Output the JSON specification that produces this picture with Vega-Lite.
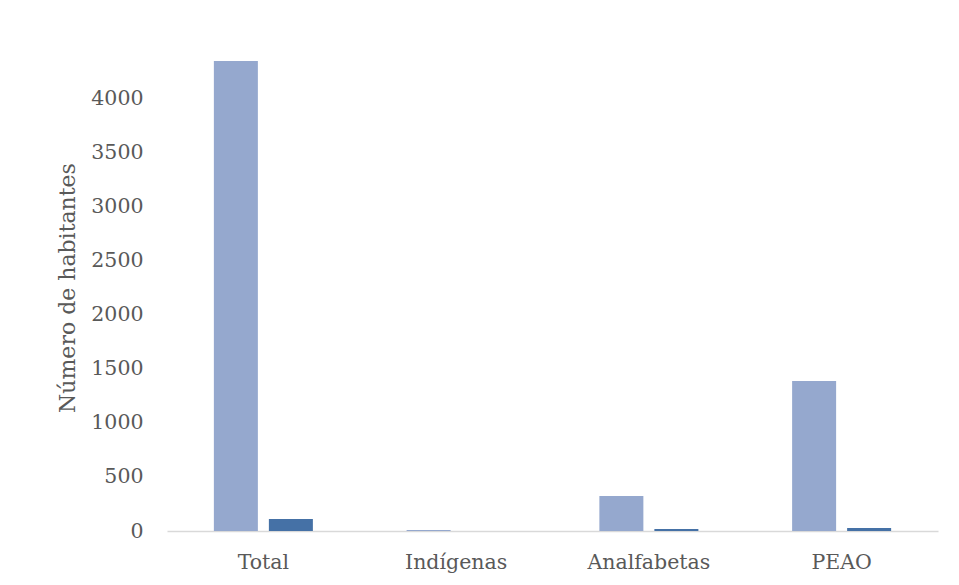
{
  "$schema": "https://vega.github.io/schema/vega-lite/v6.json",
  "autosize": {"type": "none"},
  "width": 771,
  "height": 487,
  "padding": {"left": 167, "top": 44, "right": 21, "bottom": 54},
  "background": "#ffffff",
  "config": {
    "view": {"stroke": null},
    "font": "DejaVu Serif",
    "axis": {"labelFont": "DejaVu Serif", "titleFont": "DejaVu Serif", "labelColor": "#595959", "titleColor": "#595959", "grid": false, "ticks": false}
  },
  "data": {
    "values": [
      {"categoria": "Total", "serie": "A", "valor": 4342},
      {"categoria": "Total", "serie": "B", "valor": 111},
      {"categoria": "Indígenas", "serie": "A", "valor": 9},
      {"categoria": "Indígenas", "serie": "B", "valor": 1},
      {"categoria": "Analfabetas", "serie": "A", "valor": 323},
      {"categoria": "Analfabetas", "serie": "B", "valor": 18},
      {"categoria": "PEAO", "serie": "A", "valor": 1386},
      {"categoria": "PEAO", "serie": "B", "valor": 27}
    ]
  },
  "mark": {"type": "bar"},
  "encoding": {
    "x": {
      "field": "categoria", "type": "nominal", "sort": null,
      "scale": {"paddingInner": 0, "paddingOuter": 0},
      "axis": {"title": null, "labelAngle": 0, "labelFontSize": 20.5, "labelPadding": 21, "domainColor": "#d9d9d9", "domainWidth": 1.5}
    },
    "xOffset": {
      "field": "serie", "type": "nominal",
      "scale": {"paddingInner": 0.2, "paddingOuter": 0.852}
    },
    "y": {
      "field": "valor", "type": "quantitative",
      "scale": {"domain": [0, 4500], "nice": false},
      "axis": {"title": "Número de habitantes", "format": "d", "values": [0, 500, 1000, 1500, 2000, 2500, 3000, 3500, 4000], "domain": false, "labelFontSize": 20.5, "labelPadding": 24, "titleFontSize": 22, "titleFontWeight": "normal", "titlePadding": 11}
    },
    "color": {
      "field": "serie", "type": "nominal",
      "scale": {"domain": ["A", "B"], "range": ["#95A8CE", "#4571A6"]},
      "legend": null
    }
  }
}
